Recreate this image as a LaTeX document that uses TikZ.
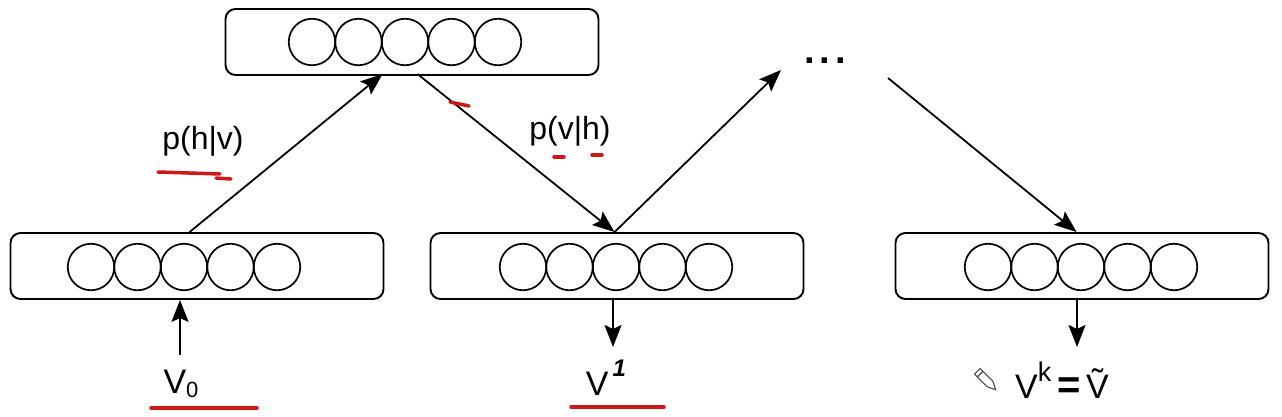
\documentclass[tikz,border=0pt]{standalone}
\usepackage{fontspec}
\setmainfont{Liberation Sans}
\usetikzlibrary{arrows.meta,calc}
\definecolor{mark}{RGB}{205,25,25}
\begin{document}
\begin{tikzpicture}[x=1pt,y=-1pt,
  layer/.style={draw,line width=1.9pt,rounded corners=10pt,minimum width=373pt,minimum height=66pt,inner sep=0pt},
  unit/.style={draw,line width=1.7pt,circle,minimum size=46.5pt,inner sep=0pt},
  conn/.style={line width=1.8pt,-{Stealth[length=22pt,width=17pt,inset=4pt]}},
  lbl/.style={font=\fontsize{32}{36}\selectfont,inner sep=0pt},
  vlbl/.style={font=\fontsize{34}{40}\selectfont,inner sep=0pt},
  redmark/.style={draw=mark,line width=3.5pt,line cap=round}]
\useasboundingbox (0,0) rectangle (1282,416);
\fill[white] (0,0) rectangle (1282,416);
% layers
\node[layer] (top) at (412,42) {};
\node[layer] (v0) at (197,266) {};
\node[layer] (v1) at (617,266) {};
\node[layer] (vk) at (1082,266) {};
% units
\foreach \b/\x/\y in {top/312/42, v0/91/267, v1/523/267, vk/988/267}{
  \foreach \i in {0,...,4}{
    \node[unit] (\b u\i) at ({\x+46.5*\i},\y) {};
  }
}
% labels
\node[lbl] (phv) at (203,141) {p(h|v)};
\node[lbl] (pvh) at (570,131) {p(v|h)};
\node[font=\fontsize{38}{42}\selectfont\bfseries,inner sep=0pt] (dots) at (825,61) {.\kern5pt.\kern5pt.};
\node[vlbl] (lv0) at (181,384) {V\raisebox{-0.1em}{\fontsize{22}{24}\selectfont 0}};
\node[vlbl] (lv1) at (606,378) {V\raisebox{0.55em}{\fontsize{24}{26}\selectfont\,\bfseries\itshape 1}};
\node[vlbl] (lvk) at (1062,380) {V\raisebox{0.5em}{\fontsize{27}{30}\selectfont k}\,\textbf{\fontsize{40}{44}\selectfont =}\,\~{V}};
% connection points
\coordinate (a0) at ($(v0.north west)+(180,0)$);
\coordinate (a1) at ($(top.north west)+(158,66)$);
\coordinate (b0) at ($(top.north west)+(193,66)$);
\coordinate (b1) at ($(v1.north west)+(185,0)$);
\coordinate (c1) at (781,70);
\coordinate (d0) at (888,78);
\coordinate (d1) at ($(vk.north west)+(182,0)$);
\coordinate (e0) at (180,355);
\coordinate (f1) at (613,347);
\coordinate (g1) at (1077,347);
% connectors
\draw[conn] (a0) -- (a1);
\draw[conn] (b0) -- (b1);
\draw[conn] (b1) -- (c1);
\draw[conn] (d0) -- (d1);
\draw[conn] (e0) -- (v0.south -| e0);
\draw[conn] (v1.south -| f1) -- (f1);
\draw[conn] (vk.south -| g1) -- (g1);
% red annotation marks
\draw[redmark] (158,172) -- (220,174);
\draw[redmark] (216,178) -- (231,179);
\draw[redmark] (450,102) -- (469,106);
\draw[redmark] (554,157) -- (564,157);
\draw[redmark] (592,155) -- (602,155);
\draw[redmark] (151,408) -- (257,408);
\draw[redmark] (571,407) -- (664,407);
% pencil icon
\begin{scope}[shift={(990,384)},rotate=-135,draw=black!70,line width=1.1pt]
  \draw (-4,0) -- (-4,18) -- (4,18) -- (4,0) -- (0,-8) -- cycle;
  \draw (-4,14) -- (4,14);
\end{scope}
\end{tikzpicture}
\end{document}
